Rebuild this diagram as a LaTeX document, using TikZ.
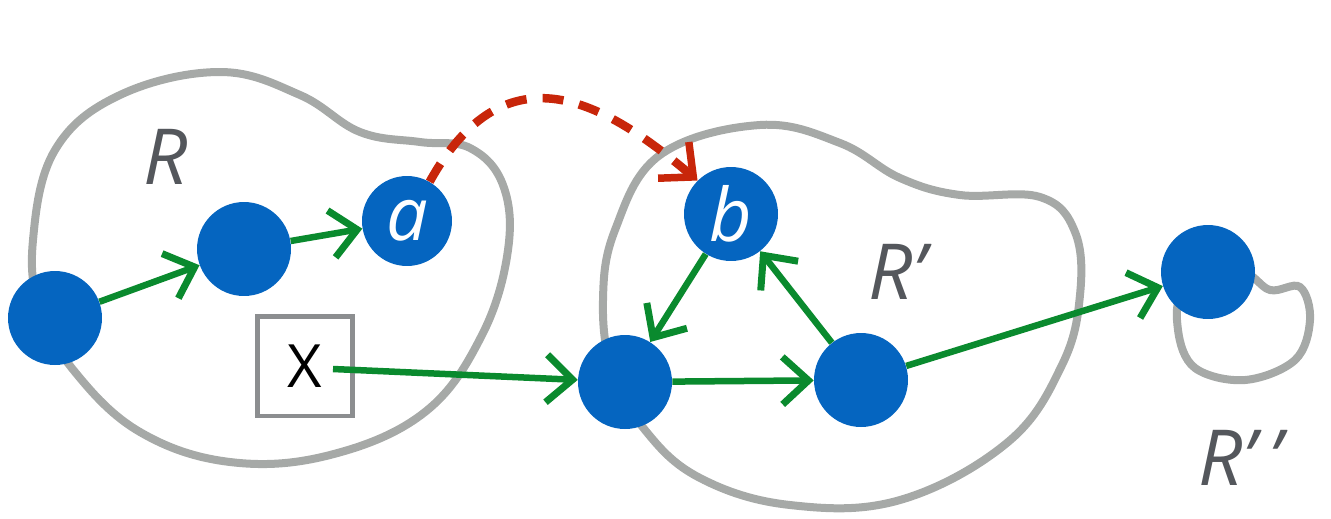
\documentclass[tikz,border=0pt]{standalone}
\usepackage{fontspec}
\setmainfont{Open Sans}
\usetikzlibrary{arrows.meta}
\definecolor{nodeblue}{HTML}{0565C0}
\definecolor{arrgreen}{HTML}{0A8A2E}
\definecolor{rgray}{HTML}{A6A9A7}
\definecolor{lblgray}{HTML}{54575C}
\definecolor{dred}{HTML}{C8260A}
\definecolor{boxgray}{HTML}{8C8E90}
\tikzset{
  dot/.style={circle, fill=nodeblue, minimum size=1.88cm, inner sep=0pt, text=white,
    font=\fontsize{42}{42}\selectfont\itshape},
  region/.style={draw=rgray, line width=0.16cm},
  regionlbl/.style={text=lblgray, font=\fontsize{44}{44}\selectfont\itshape},
  garr/.style={draw=arrgreen, line width=0.13cm, -{Straight Barb[length=0.52cm, width=0.95cm, line width=0.14cm]}},
  rarr/.style={draw=dred, line width=0.17cm, dash pattern=on 0.42cm off 0.32cm,
    -{Straight Barb[length=0.52cm, width=0.95cm, line width=0.15cm]}},
  xbox/.style={draw=boxgray, line width=0.1cm, minimum width=1.9cm, minimum height=2.0cm,
    inner sep=0pt, font=\fontsize{34}{34}\selectfont},
}
\begin{document}
\begin{tikzpicture}[x=0.02cm, y=-0.02cm]
\useasboundingbox (0,0) rectangle (1331,518);
% regions
\draw[region] plot[smooth cycle, tension=0.65] coordinates {
  (33,240) (55,150) (120,95) (220,72) (300,95) (360,132) (420,142) (470,148)
  (503,185) (508,250) (482,335) (425,412) (330,455) (230,462) (140,432) (75,372) (40,310)};
\draw[region] plot[smooth cycle, tension=0.65] coordinates {
  (603,300) (615,230) (660,155) (760,125) (840,143) (900,178) (960,195) (1040,197)
  (1075,232) (1080,295) (1062,365) (1008,442) (900,500) (790,505) (700,478) (645,430) (612,370)};
\draw[region] plot[smooth cycle, tension=0.6] coordinates {
  (1240,272) (1270,290) (1300,287) (1310,320) (1295,360) (1245,380) (1195,368) (1178,330) (1185,290)};
% labels
\node[regionlbl] (lR) at (166,157) {R};
\node[regionlbl] (lR1) at (897,272) {R’};
\node[regionlbl] (lR2) at (1240,458) {R’\,’};
% nodes
\node[dot] (n1) at (55,318) {};
\node[dot] (n2) at (244,249) {};
\node[dot, minimum size=1.8cm] (a) at (407,221) {a};
\node[dot] (b) at (731,214) {b};
\node[dot] (c) at (625,382) {};
\node[dot] (d) at (861,380) {};
\node[dot] (e) at (1208,272) {};
\node[xbox] (x) at (305,366) {X};
\coordinate (xs) at (333,369);
% arrows
\draw[garr] (n1) -- (n2);
\draw[garr] (n2) -- (a);
\draw[garr] (xs) -- (c);
\draw[garr] (c) -- (d);
\draw[garr] (d) -- (b);
\draw[garr] (b) -- (c);
\draw[garr] (d) -- (e);
\draw[rarr] (a.60) .. controls (506,44) and (605,102) .. (b.135);
\end{tikzpicture}
\end{document}
